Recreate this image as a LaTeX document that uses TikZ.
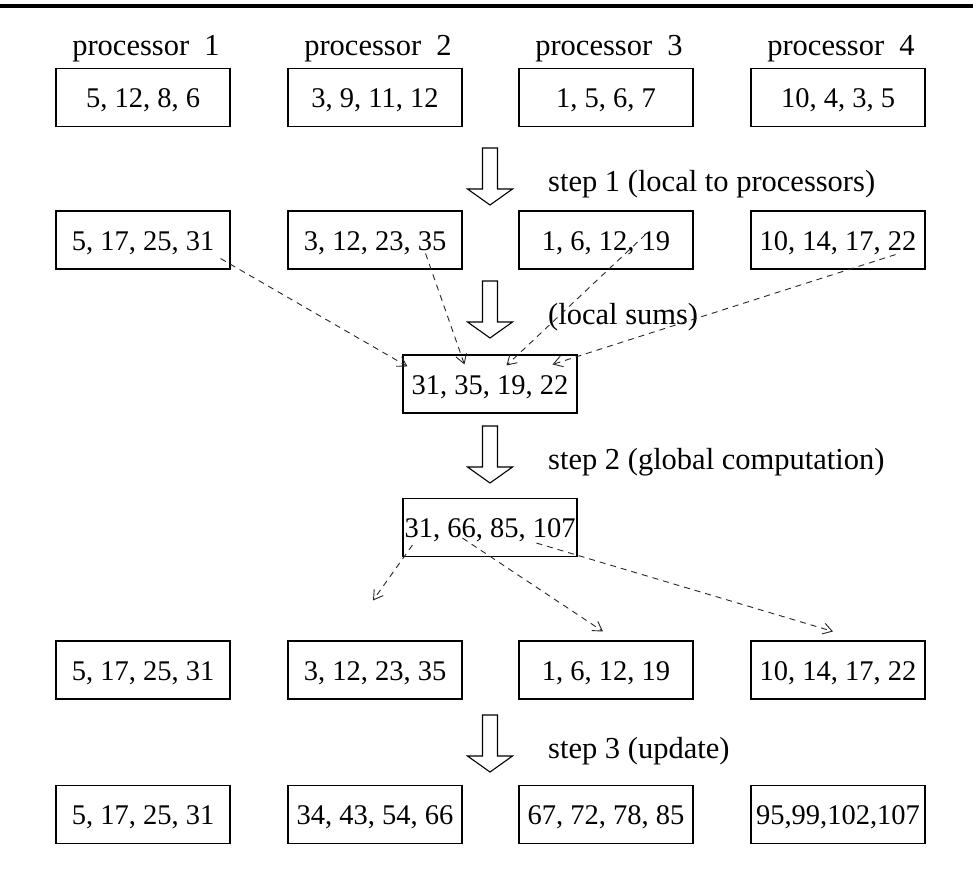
\documentclass[tikz,border=0pt]{standalone}
\usepackage{fontspec}
\setmainfont{Liberation Serif}
\usetikzlibrary{arrows.meta,calc}
\begin{document}
\begin{tikzpicture}[x=1pt,y=-1pt,
  numbox/.style={draw, line width=1.1pt, minimum width=174pt, minimum height=58pt,
    inner sep=0pt, text height=21pt, text depth=1pt, font=\fontsize{28.5}{32}\selectfont},
  plbl/.style={anchor=base, inner sep=0pt, font=\fontsize{30.5}{33}\selectfont},
  slbl/.style={anchor=base west, inner sep=0pt, font=\fontsize{30.5}{33}\selectfont},
  flow/.style={draw=black!85, dash pattern=on 6pt off 5pt, line width=0.9pt,
    -{Straight Barb[length=9pt,width=11pt,line width=0.9pt]}},
  downarrow/.pic={\draw[line width=1.1pt, fill=white]
    (-7.5,0) -- (-7.5,41) -- (-22.5,41) -- (0,57) -- (22.5,41) -- (7.5,41) -- (7.5,0) -- cycle;}]
\useasboundingbox (0,0) rectangle (973,870);
\draw[line width=4pt] (0,5.5) -- (973,5.5);

% processor labels
\node[plbl] (p1) at (146,55.5) {processor\ \ 1};
\node[plbl] (p2) at (378,55.5) {processor\ \ 2};
\node[plbl] (p3) at (609,55.5) {processor\ \ 3};
\node[plbl] (p4) at (841,55.5) {processor\ \ 4};

% row 1
\node[numbox] (r1a) at (143,97.5) {5, 12, 8, 6};
\node[numbox] (r1b) at (375,97.5) {3, 9, 11, 12};
\node[numbox] (r1c) at (606,97.5) {1, 5, 6, 7};
\node[numbox] (r1d) at (838,97.5) {10, 4, 3, 5};

% row 2
\node[numbox] (r2a) at (143,240) {5, 17, 25, 31};
\node[numbox] (r2b) at (375,240) {3, 12, 23, 35};
\node[numbox] (r2c) at (606,240) {1, 6, 12, 19};
\node[numbox] (r2d) at (838,240) {10, 14, 17, 22};

% middle boxes
\node[numbox] (m1) at (490,384) {31, 35, 19, 22};
\node[numbox] (m2) at (490,527.5) {31, 66, 85, 107};

% row 4
\node[numbox] (r4a) at (143,670) {5, 17, 25, 31};
\node[numbox] (r4b) at (375,670) {3, 12, 23, 35};
\node[numbox] (r4c) at (606,670) {1, 6, 12, 19};
\node[numbox] (r4d) at (838,670) {10, 14, 17, 22};

% row 5
\node[numbox] (r5a) at (143,814.5) {5, 17, 25, 31};
\node[numbox] (r5b) at (375,814.5) {34, 43, 54, 66};
\node[numbox] (r5c) at (606,814.5) {67, 72, 78, 85};
\node[numbox] (r5d) at (838,814.5) {95,99,102,107};

% hollow step arrows
\pic at (490,148) {downarrow};
\pic at (490,281) {downarrow};
\pic at (490,426) {downarrow};
\pic at (490,715) {downarrow};

% step labels
\node[slbl] (s1) at (548,191) {step 1 (local to processors)};
\node[slbl] (s2) at (548,324) {(local sums)};
\node[slbl] (s3) at (548,469) {step 2 (global computation)};
\node[slbl] (s4) at (548,758) {step 3 (update)};

% gather local sums
\draw[flow] ([shift={(-10,-11)}]r2a.south east) -- ([shift={(5,12)}]m1.north west);
\draw[flow] ([shift={(-37,-16)}]r2b.south east) -- ([shift={(62,10)}]m1.north west);
\draw[flow] ([shift={(-48,-35)}]r2c.south east) -- ([shift={(104,11)}]m1.north west);
\draw[flow] ([shift={(-30,-15)}]r2d.south east) -- ([shift={(150,10)}]m1.north west);

% scatter global results
\draw[flow] ([shift={(10,-12)}]m2.south west) -- ([shift={(-2,-40)}]r4b.north);
\draw[flow] ([shift={(60,-19)}]m2.south west) -- ([shift={(-3,-9)}]r4c.north);
\draw[flow] ([shift={(134,-14)}]m2.south west) -- ([shift={(-5,-9)}]r4d.north);
\end{tikzpicture}
\end{document}
